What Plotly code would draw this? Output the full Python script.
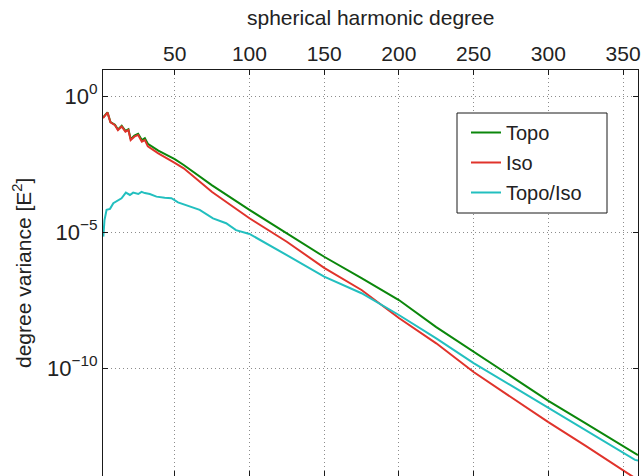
import plotly.graph_objects as go

# spherical harmonic degree at which each value was read
deg_topo = [2, 3, 5, 7, 10, 12, 14.5, 17, 19, 20.5, 23, 25.5, 28, 30, 32, 39, 47, 50, 56, 75,
            100, 125, 150, 175, 200, 225, 250, 275, 300, 325, 358, 360]
topo = [1.6e-1, 1.85e-1, 2.5e-1, 1.1e-1, 8.8e-2, 5.9e-2, 8.0e-2, 5.2e-2, 6.0e-2, 2.6e-2,
        3.5e-2, 4.1e-2, 2.4e-2, 2.8e-2, 1.75e-2, 9.8e-3, 5.9e-3, 4.8e-3, 2.9e-3, 5.2e-4,
        6.5e-5, 8.9e-6, 1.23e-6, 2.0e-7, 3.16e-8, 3.2e-9, 4.0e-10, 4.7e-11, 6.2e-12,
        9.3e-13, 7.4e-14, 6.3e-14]

deg_iso = [2, 3, 5, 7, 10, 12, 14.5, 17, 19, 20.5, 23, 25.5, 28, 30, 32, 39, 47, 50, 56, 75,
           100, 125, 150, 175, 200, 225, 250, 275, 300, 325, 354, 360]
iso = [1.55e-1, 1.82e-1, 2.45e-1, 1.07e-1, 8.5e-2, 5.6e-2, 7.6e-2, 4.9e-2, 5.6e-2, 2.4e-2,
       3.2e-2, 3.7e-2, 2.1e-2, 2.4e-2, 1.4e-2, 7.8e-3, 4.5e-3, 3.5e-3, 2.2e-3, 2.95e-4,
       3.2e-5, 4.4e-6, 4.8e-7, 7.4e-8, 6.9e-9, 8.1e-10, 7.1e-11, 8.5e-12, 1.02e-12,
       1.38e-13, 1.26e-14, 7.6e-15]

deg_ratio = [2.2, 3, 4.4, 6.7, 8.9, 11, 14.4, 17.3, 20, 22.2, 25.6, 27.8, 30, 33.3, 37.8,
             43.3, 47.8, 52.2, 57.8, 66.7, 75.6, 84.4, 91, 100, 125, 150, 175, 200, 225,
             250, 275, 300, 325, 358, 360]
ratio = [6.8e-6, 2.75e-5, 6.5e-5, 7.1e-5, 1.15e-4, 1.32e-4, 1.74e-4, 2.8e-4, 2.3e-4, 2.8e-4,
         2.5e-4, 3.0e-4, 2.7e-4, 2.5e-4, 2.0e-4, 1.8e-4, 1.74e-4, 1.23e-4, 9.8e-5, 6.5e-5,
         3.16e-5, 2.1e-5, 1.17e-5, 8.5e-6, 1.41e-6, 2.3e-7, 5.6e-8, 8.9e-9, 1.23e-9,
         1.51e-10, 2.3e-11, 3.4e-12, 5.2e-13, 4.2e-14, 4.0e-14]

x_ticks = [50, 100, 150, 200, 250, 300, 350]
y_tickvals = [1e0, 1e-5, 1e-10]
y_ticktext = ["10<sup>0</sup>", "10<sup>\u22125</sup>", "10<sup>\u221210</sup>"]

FONT = "Liberation Sans, Arial, sans-serif"
GRID = "#8c8c8c"
AX = "#1a1a1a"

fig = go.Figure()
fig.add_trace(go.Scatter(x=deg_topo, y=topo, mode="lines", name="Topo",
                         line=dict(color="#0b870b", width=2), legendgroup="a"))
fig.add_trace(go.Scatter(x=deg_iso, y=iso, mode="lines", name="Iso",
                         line=dict(color="#e0332b", width=2), legendgroup="b"))
fig.add_trace(go.Scatter(x=deg_ratio, y=ratio, mode="lines", name="Topo/Iso",
                         line=dict(color="#22bfbf", width=2), legendgroup="c"))
# invisible trace to carry the bottom tick marks
fig.add_trace(go.Scatter(x=[x_ticks[0]], y=[1], xaxis="x2", mode="markers",
                         marker=dict(opacity=0), showlegend=False, hoverinfo="skip"))

L, R, T, B = 103, 3, 70, 0
W, H = 641, 476
pw = W - L - R
ph = H - T - B

fig.update_layout(
    width=W, height=H,
    margin=dict(l=L, r=R, t=T, b=B),
    paper_bgcolor="white", plot_bgcolor="white",
    font=dict(family=FONT, size=21, color="#222222"),
    xaxis=dict(side="top", range=[2, 360], tickvals=x_ticks,
               showgrid=True, gridcolor=GRID, griddash="1px,3px", gridwidth=1,
               showline=True, linecolor=AX, linewidth=1, mirror=False,
               ticks="inside", ticklen=5, tickcolor=AX, zeroline=False,
               tickfont=dict(size=21)),
    xaxis2=dict(overlaying="x", side="bottom", range=[2, 360], tickvals=x_ticks,
                showticklabels=False, showgrid=False, showline=False,
                ticks="inside", ticklen=5, tickcolor=AX, zeroline=False),
    yaxis=dict(type="log", range=[-13.97, 0.956], tickvals=y_tickvals, ticktext=y_ticktext,
               showgrid=True, gridcolor=GRID, griddash="1px,3px", gridwidth=1,
               showline=True, linecolor=AX, linewidth=1, mirror="ticks",
               ticks="inside", ticklen=5, tickcolor=AX, zeroline=False,
               tickfont=dict(size=22)),
    showlegend=True,
    legend=dict(x=(466 - L) / pw, y=1 - (113 - T) / ph, xanchor="left", yanchor="top",
                bgcolor="rgba(0,0,0,0)", borderwidth=0, font=dict(size=20),
                traceorder="grouped", tracegroupgap=1),
)

fig.add_shape(type="rect", xref="paper", yref="paper",
              x0=(457 - L) / pw, x1=(607 - L) / pw,
              y0=1 - (213 - T) / ph, y1=1 - (113 - T) / ph,
              line=dict(color=AX, width=1), fillcolor="white", layer="above")

fig.add_annotation(text="spherical harmonic degree", xref="paper", yref="paper",
                   x=0.5, y=1 + (T - 18) / ph, showarrow=False,
                   font=dict(size=21), xanchor="center", yanchor="middle")
fig.add_annotation(text="degree variance [E<sup>2</sup>]", xref="paper", yref="paper",
                   x=-(L - 22) / pw, y=0.5, showarrow=False, textangle=-90,
                   font=dict(size=21), xanchor="center", yanchor="middle")

fig.write_html("out.html", config={"displayModeBar": False},
               post_script="document.body.style.margin='0';")
